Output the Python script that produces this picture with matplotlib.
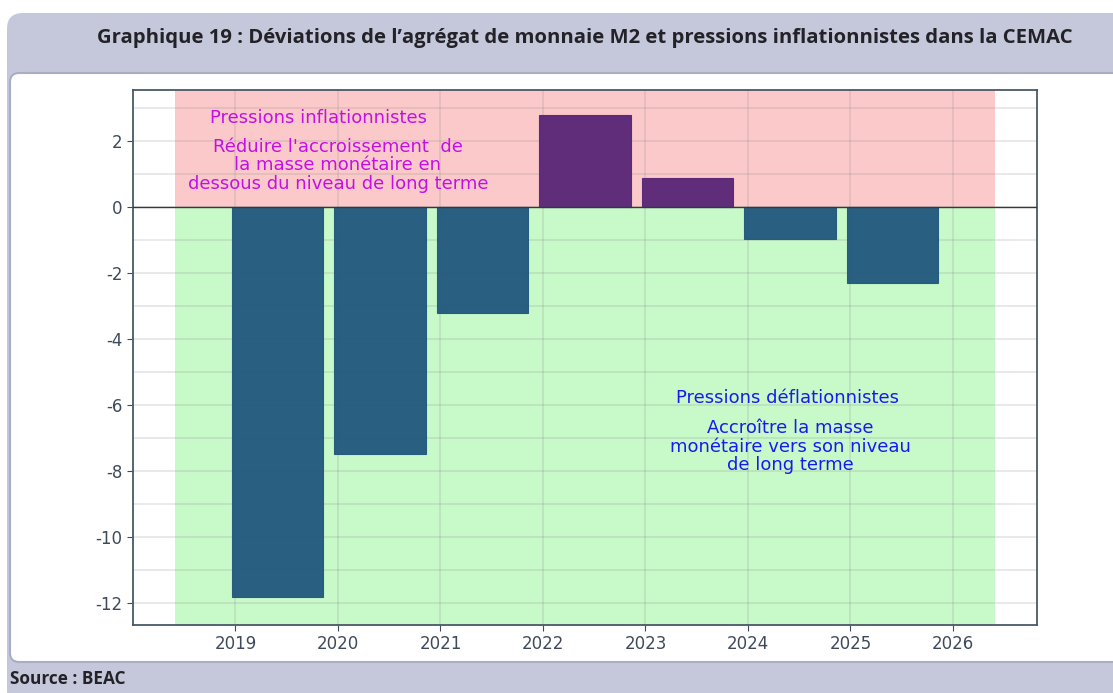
import matplotlib.pyplot as plt
import matplotlib.patches as patches
import numpy as np

# Data
years = [2019, 2020, 2021, 2022, 2023, 2024, 2025]
deviation = [-11.82, -7.48, -3.21, 2.80, 0.88, -0.98, -2.30]
tick_years = [2019, 2020, 2021, 2022, 2023, 2024, 2025, 2026]
y_ticks = [2, 0, -2, -4, -6, -8, -10, -12]

TITLE = "Graphique 19 : Déviations de l\u2019agrégat de monnaie M2 et pressions inflationnistes dans la CEMAC"
SOURCE = "Source : BEAC"

C_FRAME = '#C5C8DA'
C_FRAME_EDGE = '#A9ADC6'
C_PINK = '#FCC9CA'
C_GREEN = '#C8FAC9'
C_NEG = '#245A7E'
C_POS = '#5B2879'
C_MAG = '#C40FE6'
C_BLUE = '#1A1AF0'
C_TICK = '#3E4A5C'
FONT = 'DejaVu Sans'

W, H = 1113, 693
fig = plt.figure(figsize=(W / 100, H / 100), dpi=100)

# background in pixel coordinates
bg = fig.add_axes([0, 0, 1, 1])
bg.set_xlim(0, W)
bg.set_ylim(H, 0)
bg.axis('off')
bg.add_patch(patches.FancyBboxPatch((7, 13), W + 40, H, boxstyle='round,pad=0,rounding_size=16',
                                    facecolor=C_FRAME, edgecolor='none'))
bg.add_patch(patches.FancyBboxPatch((10, 73), W + 40, 589, boxstyle='round,pad=0,rounding_size=9',
                                    facecolor='white', edgecolor=C_FRAME_EDGE, lw=1.5))
bg.text(585, 38, TITLE, ha='center', va='center', fontsize=14.6, fontweight='bold',
        family='Open Sans', color='#222228')
bg.text(10, 679, SOURCE, ha='left', va='center', fontsize=12.4, fontweight='bold',
        family='Open Sans', color='#222228')

ax = fig.add_axes([133 / W, 1 - 625 / H, (1037 - 133) / W, (625 - 90) / H])
x0, x1 = 2018.0, 2026.82
ax.set_xlim(x0, x1)
ax.set_ylim(-12.67, 3.55)

# shaded regions
span = dict(xmin=(2018.41 - x0) / (x1 - x0), xmax=(2026.41 - x0) / (x1 - x0))
ax.axhspan(0, 3.55, facecolor=C_PINK, edgecolor='none', zorder=0, **span)
ax.axhspan(-12.67, 0, facecolor=C_GREEN, edgecolor='none', zorder=0, **span)

# grid
ax.set_yticks(y_ticks)
ax.set_yticks(np.arange(-12, 4, 1), minor=True)
ax.set_xticks(tick_years)
ax.grid(True, which='both', axis='y', color='#888888', alpha=0.22, lw=1.2, zorder=1)
ax.grid(True, which='major', axis='x', color='#888888', alpha=0.22, lw=1.2, zorder=1)
ax.set_axisbelow(True)

colors = [C_POS if v > 0 else C_NEG for v in deviation]
ax.bar(np.array(years) - 0.035, deviation, width=0.89, align='edge', color=colors,
       edgecolor=colors, lw=0.8, alpha=0.97, zorder=3)
ax.axhline(0, color='#303840', lw=1.0, zorder=4)

ax.set_xticklabels([str(y) for y in tick_years])
ax.set_yticklabels([str(v) for v in y_ticks])
ax.tick_params(axis='both', which='major', labelsize=12, colors=C_TICK, labelcolor=C_TICK,
               length=4, width=0.8)
ax.tick_params(axis='both', which='minor', length=0)
for lab in ax.get_xticklabels() + ax.get_yticklabels():
    lab.set_family(FONT)
for s in ax.spines.values():
    s.set_color('#4A5868')
    s.set_linewidth(1.3)

txt = dict(ha='center', va='center', fontsize=13, family=FONT, linespacing=1.03)
ax.text(2019.81, 2.7, "Pressions inflationnistes", color=C_MAG, **txt)
ax.text(2020.0, 1.27, "Réduire l'accroissement  de\nla masse monétaire en\ndessous du niveau de long terme",
        color=C_MAG, **txt)
ax.text(2024.39, -5.8, "Pressions déflationnistes", color=C_BLUE, **txt)
ax.text(2024.41, -7.27, "Accroître la masse\nmonétaire vers son niveau\nde long terme",
        color=C_BLUE, **txt)

fig.savefig('out.png', dpi=100)
